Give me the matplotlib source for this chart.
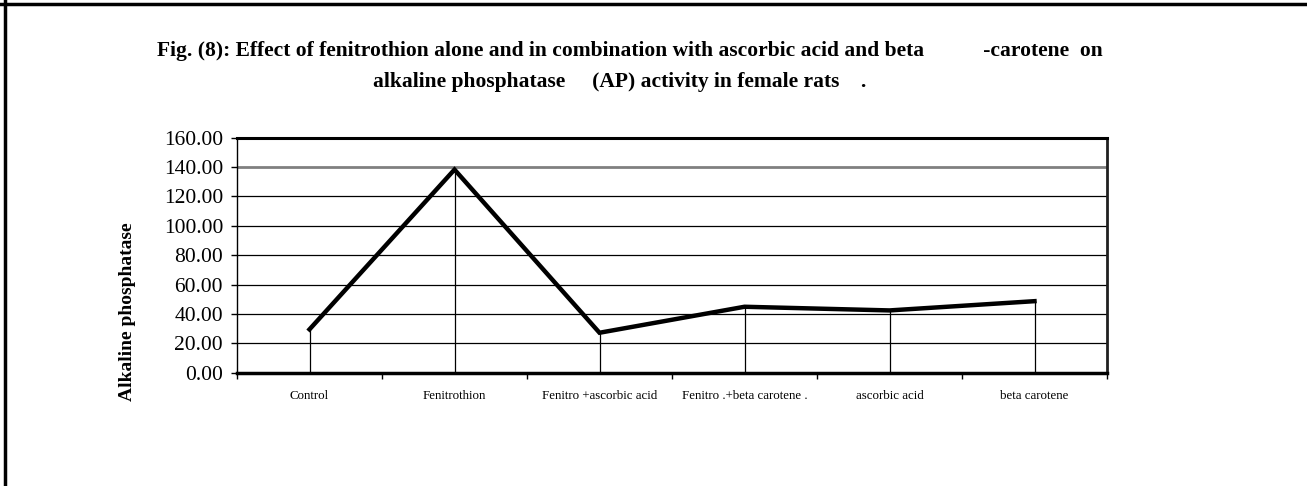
import matplotlib.pyplot as plt
from matplotlib.lines import Line2D

# data
groups = ['Control', 'Fenitrothion', 'Fenitro +ascorbic acid',
          'Fenitro .+beta carotene .', 'ascorbic acid', 'beta carotene']
ap_values = [29.5, 138.3, 27.2, 44.9, 42.4, 48.7]
y_ticks = [0, 20, 40, 60, 80, 100, 120, 140, 160]

plt.rcParams['font.family'] = ['Liberation Serif', 'DejaVu Serif']

fig = plt.figure(figsize=(13.07, 4.86), dpi=100)
ax = fig.add_axes([237 / 1307, 1 - 372.7 / 486, (1107 - 237) / 1307, (372.7 - 137.7) / 486])

x = list(range(len(groups)))

# horizontal gridlines (140 line is grey and heavier)
for t in y_ticks[1:-1]:
    if t == 140:
        ax.axhline(t, color='#808080', lw=2, zorder=1)
    else:
        ax.axhline(t, color='black', lw=0.9, zorder=1)

# drop lines
ax.vlines(x, 0, ap_values, colors='black', lw=0.9, zorder=2)
ax.plot(x, ap_values, color='black', lw=3.2, solid_joinstyle='miter', zorder=3)

ax.set_xlim(-0.5, len(groups) - 0.5)
ax.set_ylim(0, 160)
ax.set_yticks(y_ticks)
ax.set_yticklabels(['%.2f' % t for t in y_ticks], fontsize=15.5)
ax.tick_params(axis='y', direction='out', length=4, width=1, pad=6)

ax.set_xticks([i - 0.5 for i in range(len(groups) + 1)])
ax.set_xticklabels([])
ax.tick_params(axis='x', direction='out', length=4, width=1)
for i, g in enumerate(groups):
    ax.text(i, -0.1, g, transform=ax.get_xaxis_transform(), ha='center', va='center', fontsize=9.3)

ax.spines['left'].set_linewidth(1)
ax.spines['top'].set_linewidth(2.2)
ax.spines['right'].set_linewidth(2)
ax.spines['right'].set_color('#202020')
ax.spines['bottom'].set_linewidth(2.5)

fig.text(128 / 1307, 1 - 312 / 486, 'Alkaline phosphatase', rotation=90, ha='center', va='center',
         fontsize=14, fontweight='bold')

fig.text(630 / 1307, 1 - 51 / 486,
         'Fig. (8): Effect of fenitrothion alone and in combination with ascorbic acid and beta           -carotene  on',
         ha='center', va='center', fontsize=15.5, fontweight='bold')
fig.text(620 / 1307, 1 - 82 / 486,
         'alkaline phosphatase     (AP) activity in female rats    .',
         ha='center', va='center', fontsize=15.5, fontweight='bold')

# page frame: top and left edges only
fig.add_artist(Line2D([0, 1], [1 - 4 / 486] * 2, transform=fig.transFigure, color='black', lw=2.5))
fig.add_artist(Line2D([5 / 1307] * 2, [0, 1], transform=fig.transFigure, color='black', lw=2.5))

fig.savefig('out.png', dpi=100)
